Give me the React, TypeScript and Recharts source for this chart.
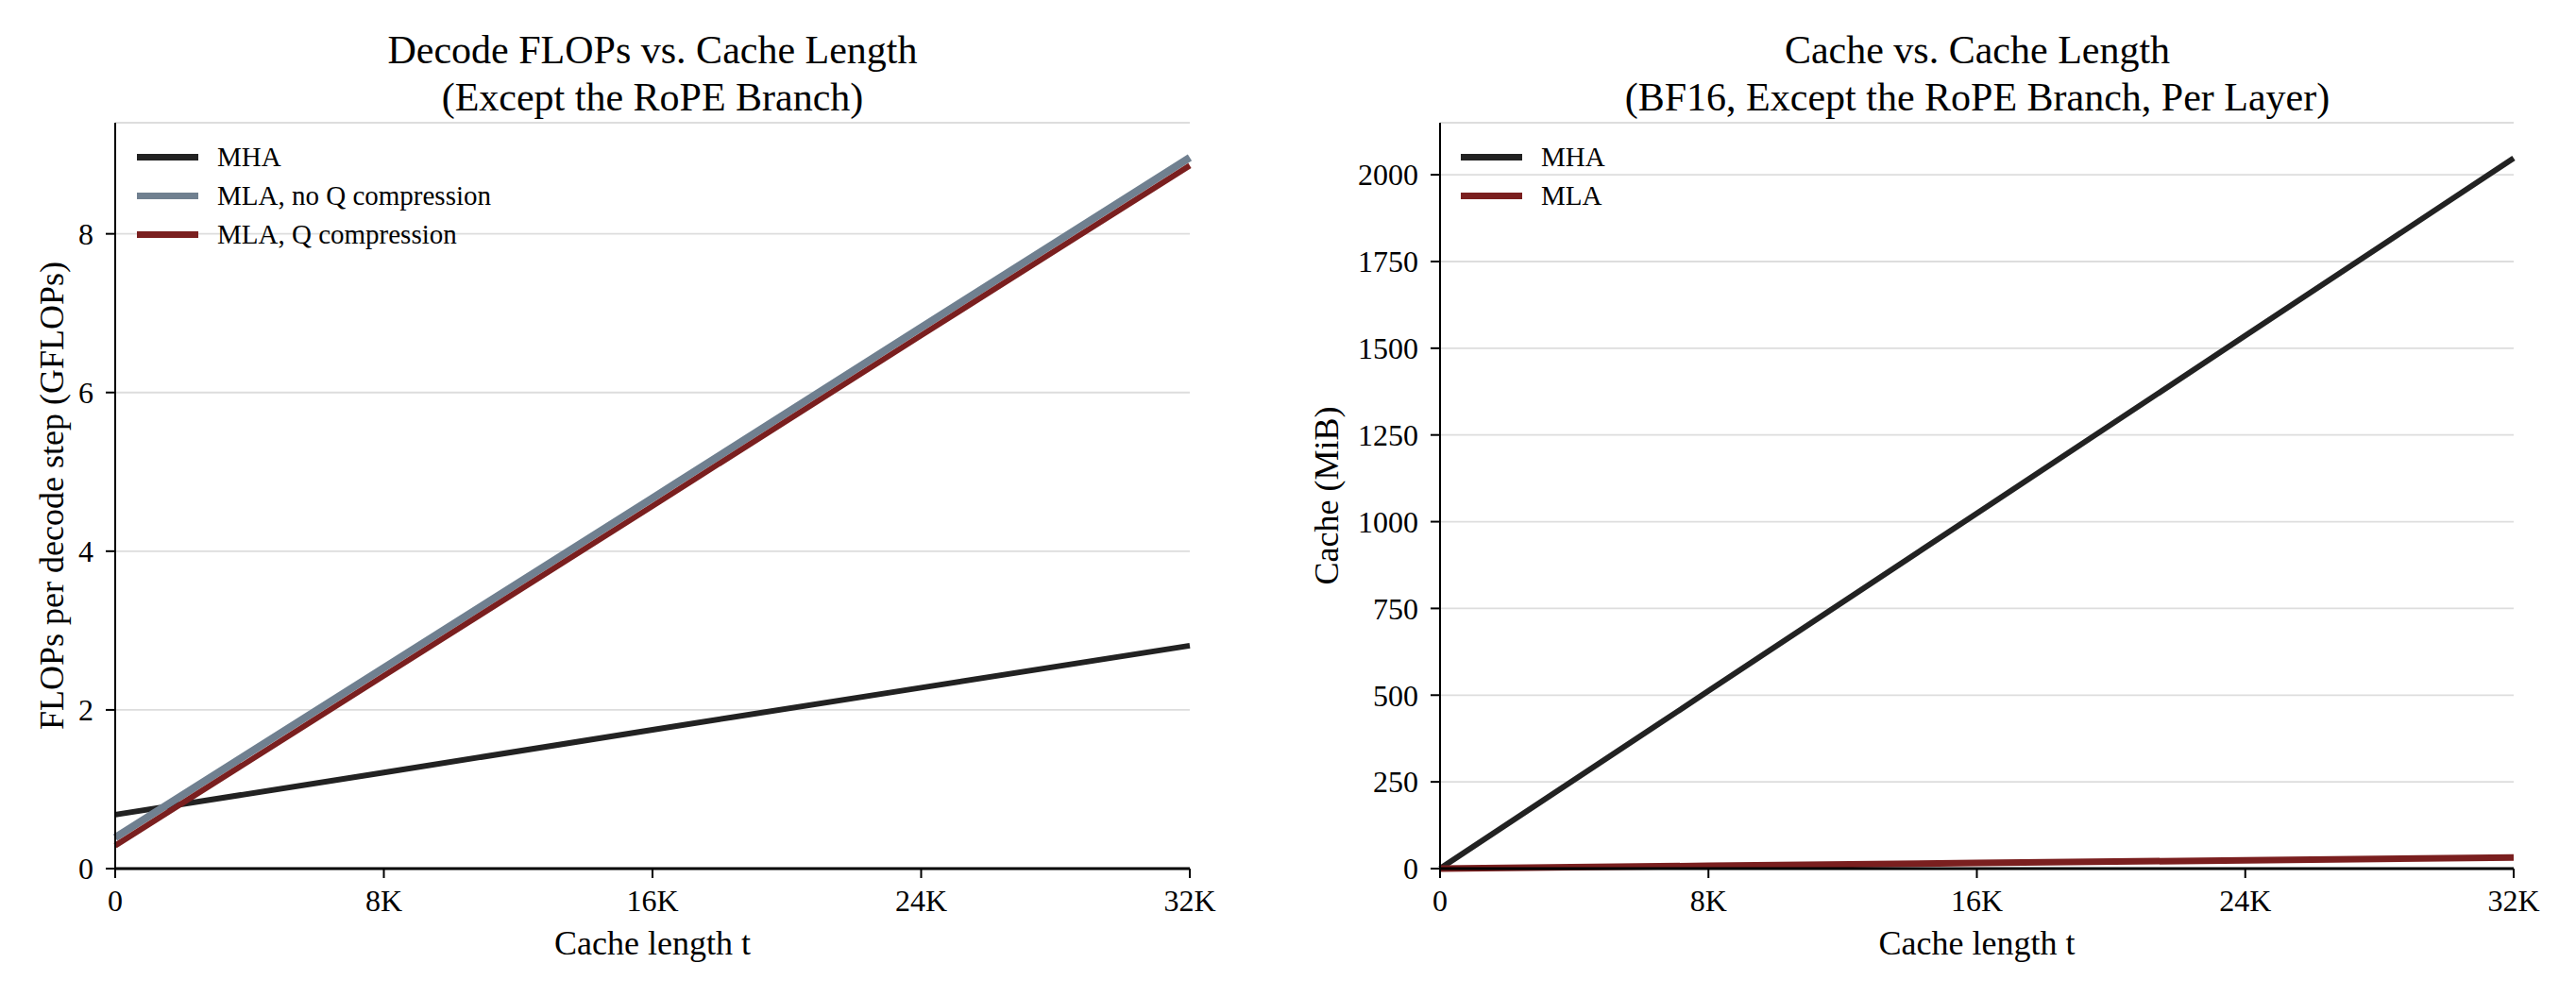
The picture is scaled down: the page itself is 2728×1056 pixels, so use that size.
import React from "react";
import {
  LineChart,
  Line,
  XAxis,
  YAxis,
  CartesianGrid,
  Legend,
  Label,
} from "recharts";

// cache length t (tokens)
const cacheLen = [0, 8192, 16384, 24576, 32768];
const xTickLabels = ["0", "8K", "16K", "24K", "32K"];

// decode FLOPs per step (GFLOPs)
const flopsMHA = [0.68, 1.21, 1.75, 2.28, 2.81];
const flopsMLANoQ = [0.39, 2.53, 4.67, 6.82, 8.96];
const flopsMLAQ = [0.29, 2.43, 4.57, 6.72, 8.86];
const flopsTicks = [0, 2, 4, 6, 8];

// cache size per layer (MiB)
const cacheMHA = [0, 512, 1024, 1536, 2048];
const cacheMLA = [0, 8, 16, 24, 32];
const cacheTicks = [0, 250, 500, 750, 1000, 1250, 1500, 1750, 2000];

const flopsData = cacheLen.map((t, i) => ({
  t,
  mha: flopsMHA[i],
  mlaNoQ: flopsMLANoQ[i],
  mlaQ: flopsMLAQ[i],
}));

const cacheData = cacheLen.map((t, i) => ({
  t,
  mha: cacheMHA[i],
  mla: cacheMLA[i],
}));

const FONT = "'Liberation Serif', 'Times New Roman', serif";
const C_MHA = "#222222";
const C_GRAY = "#708090";
const C_RED = "#7a1f1f";

const fmtX = (v: number) => xTickLabels[cacheLen.indexOf(v)] ?? String(v);

function LegendBox({ items }: { items: { label: string; color: string }[] }) {
  return (
    <div style={{ fontFamily: FONT }}>
      {items.map((it) => (
        <div
          key={it.label}
          style={{ display: "flex", alignItems: "center", height: 41 }}
        >
          <div
            style={{ width: 65, height: 7, background: it.color, marginRight: 20 }}
          />
          <span style={{ fontSize: 29, color: "#000" }}>{it.label}</span>
        </div>
      ))}
    </div>
  );
}

const tickStyle = { fontSize: 32, fill: "#000", fontFamily: FONT };

function Title({ left, lines }: { left: number; lines: string[] }) {
  return (
    <div
      style={{
        position: "absolute",
        left,
        top: 28,
        width: 1138,
        textAlign: "center",
        fontFamily: FONT,
        fontSize: 42,
        lineHeight: "50px",
        color: "#000",
      }}
    >
      {lines.map((l) => (
        <div key={l}>{l}</div>
      ))}
    </div>
  );
}

export default function App() {
  return (
    <div
      style={{
        position: "absolute",
        left: 0,
        top: 0,
        width: 2728,
        height: 1056,
        background: "#fff",
        fontFamily: FONT,
      }}
    >
      <Title left={122} lines={["Decode FLOPs vs. Cache Length", "(Except the RoPE Branch)"]} />
      <Title
        left={1525}
        lines={["Cache vs. Cache Length", "(BF16, Except the RoPE Branch, Per Layer)"]}
      />

      <div style={{ position: "absolute", left: 0, top: 0 }}>
        <LineChart
          width={1364}
          height={1056}
          data={flopsData}
          margin={{ top: 130, right: 104, bottom: 36, left: 62 }}
        >
          <CartesianGrid vertical={false} stroke="#dddddd" strokeWidth={1.8} />
          <XAxis
            dataKey="t"
            type="number"
            domain={[0, 32768]}
            ticks={cacheLen}
            tickFormatter={fmtX}
            height={100}
            tickSize={10}
            tickMargin={12}
            tick={tickStyle}
            axisLine={{ stroke: "#000", strokeWidth: 3 }}
            tickLine={{ stroke: "#000", strokeWidth: 2 }}
          >
            <Label
              value="Cache length t"
              position="insideBottom"
              offset={9}
              style={{ fontSize: 36, fill: "#000", fontFamily: FONT }}
            />
          </XAxis>
          <YAxis
            type="number"
            domain={[0, 9.4]}
            ticks={flopsTicks}
            width={60}
            tickSize={10}
            tickMargin={13}
            tick={tickStyle}
            axisLine={{ stroke: "#000", strokeWidth: 2 }}
            tickLine={{ stroke: "#000", strokeWidth: 2 }}
          >
            <Label
              value="FLOPs per decode step (GFLOPs)"
              angle={-90}
              position="insideLeft"
              offset={-8}
              style={{ fontSize: 36, fill: "#000", fontFamily: FONT, textAnchor: "middle" }}
            />
          </YAxis>
          <Legend
            layout="horizontal"
            align="center"
            verticalAlign="middle"
            wrapperStyle={{ left: 145, top: 146, width: "auto", height: "auto" }}
            content={() => (
              <LegendBox
                items={[
                  { label: "MHA", color: C_MHA },
                  { label: "MLA, no Q compression", color: C_GRAY },
                  { label: "MLA, Q compression", color: C_RED },
                ]}
              />
            )}
          />
          <Line
            dataKey="mha"
            stroke={C_MHA}
            strokeWidth={6}
            dot={false}
            isAnimationActive={false}
          />
          <Line
            dataKey="mlaNoQ"
            stroke={C_GRAY}
            strokeWidth={8}
            dot={false}
            isAnimationActive={false}
          />
          <Line
            dataKey="mlaQ"
            stroke={C_RED}
            strokeWidth={6}
            dot={false}
            isAnimationActive={false}
          />
        </LineChart>
      </div>

      <div style={{ position: "absolute", left: 1364, top: 0 }}>
        <LineChart
          width={1364}
          height={1056}
          data={cacheData}
          margin={{ top: 130, right: 66, bottom: 36, left: 101 }}
        >
          <CartesianGrid vertical={false} stroke="#dddddd" strokeWidth={1.8} />
          <XAxis
            dataKey="t"
            type="number"
            domain={[0, 32768]}
            ticks={cacheLen}
            tickFormatter={fmtX}
            height={100}
            tickSize={10}
            tickMargin={12}
            tick={tickStyle}
            axisLine={{ stroke: "#000", strokeWidth: 3 }}
            tickLine={{ stroke: "#000", strokeWidth: 2 }}
          >
            <Label
              value="Cache length t"
              position="insideBottom"
              offset={9}
              style={{ fontSize: 36, fill: "#000", fontFamily: FONT }}
            />
          </XAxis>
          <YAxis
            type="number"
            domain={[0, 2150]}
            ticks={cacheTicks}
            width={60}
            tickSize={10}
            tickMargin={13}
            tick={tickStyle}
            axisLine={{ stroke: "#000", strokeWidth: 2 }}
            tickLine={{ stroke: "#000", strokeWidth: 2 }}
          >
            <Label
              value="Cache (MiB)"
              angle={-90}
              position="insideLeft"
              offset={-61}
              style={{ fontSize: 36, fill: "#000", fontFamily: FONT, textAnchor: "middle" }}
            />
          </YAxis>
          <Legend
            layout="horizontal"
            align="center"
            verticalAlign="middle"
            wrapperStyle={{ left: 183, top: 146, width: "auto", height: "auto" }}
            content={() => (
              <LegendBox
                items={[
                  { label: "MHA", color: C_MHA },
                  { label: "MLA", color: C_RED },
                ]}
              />
            )}
          />
          <Line
            dataKey="mha"
            stroke={C_MHA}
            strokeWidth={6}
            dot={false}
            isAnimationActive={false}
          />
          <Line
            dataKey="mla"
            stroke={C_RED}
            strokeWidth={7}
            dot={false}
            isAnimationActive={false}
          />
        </LineChart>
      </div>
    </div>
  );
}
